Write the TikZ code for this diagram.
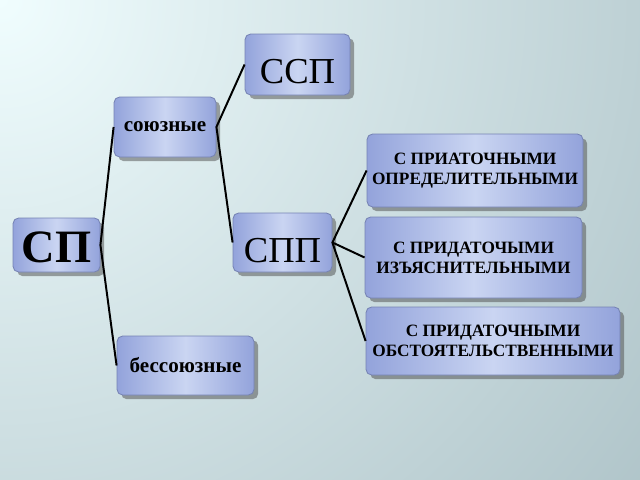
\documentclass[tikz,border=0pt]{standalone}
\usepackage{fontspec}
\setmainfont{Liberation Serif}
\usepackage{xcolor}
\usetikzlibrary{shadows,positioning}
\definecolor{bglight}{HTML}{F0FDFE}
\definecolor{bgdark}{HTML}{9DB4BA}
\definecolor{boxside}{HTML}{93A3DB}
\definecolor{boxmid}{HTML}{CAD5F2}
\definecolor{boxline}{HTML}{7683B4}
\newlength{\upx}\setlength{\upx}{0.025cm}
\newcommand{\lowtext}[2]{\raisebox{-#1}[\height][\depth]{#2}}

\begin{document}
\begin{tikzpicture}[x=0.025cm,y=-0.025cm,
  box/.style={draw=boxline,line width=0.6pt,rounded corners=4pt,left color=boxside,right color=boxside,middle color=boxmid,
    align=center,inner sep=0pt,drop shadow={shadow xshift=3pt,shadow yshift=-3pt,opacity=0.5,fill=black!70}},
  big/.style={font=\fontsize{26}{28}\selectfont},
  word/.style={font=\fontsize{15}{17}\selectfont\bfseries},
  small/.style={font=\fontsize{12.3}{14.2}\selectfont\bfseries},
  link/.style={line width=1.4pt,black}]
\useasboundingbox (0,0) rectangle (640,480);
\fill[bgdark] (0,0) rectangle (640,480);
\begin{scope}
\clip (0,0) rectangle (640,480);
\shade[inner color=bglight,outer color=bgdark] (0,0) circle (1050);
\end{scope}
\node[box,minimum width=87\upx,minimum height=54\upx,font=\fontsize{33}{35}\selectfont\bfseries] (sp) at (56.5,245) {\lowtext{2pt}{СП}};
\node[box,word,minimum width=102\upx,minimum height=60\upx] (soyuz) at (165,127) {союзные};
\node[box,word,minimum width=137\upx,minimum height=59\upx] (bessoyuz) at (185.5,365.5) {бессоюзные};
\node[box,big,minimum width=105\upx,minimum height=61\upx] (ssp) at (297.5,64.5) {\lowtext{5pt}{ССП}};
\node[box,big,minimum width=99\upx,minimum height=59\upx] (spp) at (282.5,242.5) {\lowtext{6pt}{СПП}};
\node[box,small,minimum width=216\upx,minimum height=73\upx] (opred) at (475,170.5) {С ПРИАТОЧНЫМИ\\ОПРЕДЕЛИТЕЛЬНЫМИ};
\node[box,small,minimum width=217\upx,minimum height=81\upx] (izyasn) at (473.5,257.5) {С ПРИДАТОЧЫМИ\\ИЗЪЯСНИТЕЛЬНЫМИ};
\node[box,small,minimum width=254\upx,minimum height=68\upx] (obst) at (493,341) {С ПРИДАТОЧНЫМИ\\ОБСТОЯТЕЛЬСТВЕННЫМИ};
\draw[link] (soyuz.west) -- (sp.east) -- (bessoyuz.west);
\draw[link] (ssp.west) -- (soyuz.east) -- (spp.west);
\draw[link] (opred.west) -- (spp.east) -- (obst.west);
\draw[link] (spp.east) -- (izyasn.west);
\end{tikzpicture}
\end{document}
